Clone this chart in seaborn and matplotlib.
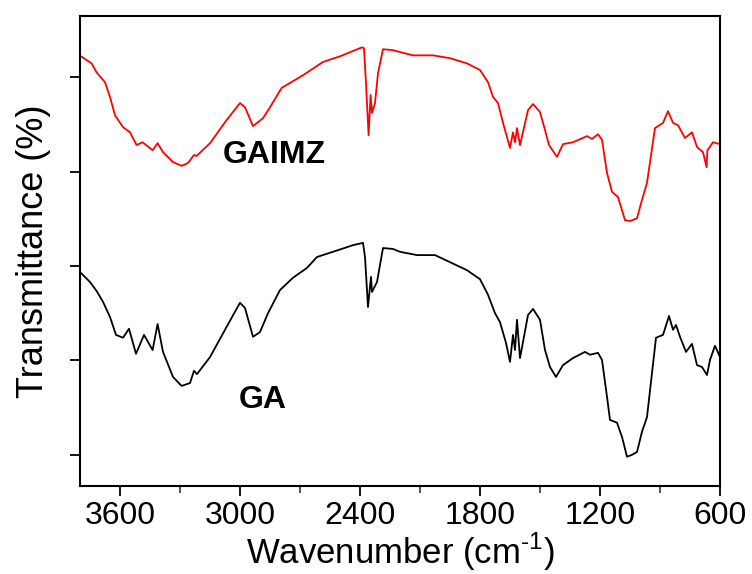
import matplotlib
matplotlib.use("Agg")
import matplotlib.pyplot as plt
import seaborn as sns
import pandas as pd
from matplotlib.ticker import MultipleLocator

# Wavenumber (cm^-1) and transmittance (arbitrary offset units)
gaimz_wn = [3795, 3742, 3717, 3675, 3650, 3625, 3585, 3550, 3517, 3487, 3437, 3412,
            3385, 3335, 3292, 3260, 3230, 3217, 3150, 3067, 3000, 2975, 2935, 2885,
            2850, 2792, 2685, 2585, 2500, 2390, 2380, 2370, 2357, 2347, 2340, 2325,
            2310, 2285, 2235, 2200, 2135, 2035, 1950, 1865, 1800, 1760, 1735, 1710,
            1685, 1650, 1635, 1625, 1615, 1600, 1560, 1535, 1500, 1475, 1455, 1415,
            1385, 1335, 1265, 1240, 1210, 1190, 1165, 1140, 1110, 1075, 1050, 1015,
            990, 965, 925, 885, 860, 835, 810, 775, 740, 715, 685, 667, 663, 635, 600]
gaimz_t = [84.4, 82.9, 81.0, 78.9, 75.8, 71.9, 69.4, 68.3, 65.6, 66.2, 64.5, 66.0,
           64.1, 62.0, 61.2, 61.8, 63.5, 63.3, 66.0, 70.9, 74.5, 73.6, 69.6, 71.3,
           73.6, 77.7, 80.4, 83.2, 84.4, 86.3, 86.1, 78.7, 67.7, 76.2, 72.4, 74.5,
           80.8, 85.9, 85.7, 85.3, 84.6, 84.6, 84.0, 82.9, 81.5, 78.9, 75.8, 74.5,
           70.3, 65.0, 68.3, 66.2, 69.2, 65.6, 73.0, 74.3, 72.6, 68.8, 65.6, 63.1,
           65.8, 66.2, 67.5, 66.9, 67.9, 66.7, 59.7, 55.7, 54.6, 49.7, 49.5, 50.1,
           54.0, 57.6, 69.2, 70.3, 72.8, 70.3, 69.8, 67.1, 68.3, 65.2, 64.1, 60.9,
           64.5, 66.2, 65.8]

ga_wn = [3795, 3750, 3717, 3685, 3650, 3620, 3585, 3555, 3520, 3480, 3437, 3412,
         3385, 3335, 3292, 3250, 3230, 3215, 3150, 3067, 3000, 2975, 2935, 2900,
         2860, 2800, 2735, 2665, 2615, 2535, 2435, 2385, 2375, 2360, 2345, 2340,
         2315, 2285, 2235, 2200, 2115, 2025, 1950, 1865, 1800, 1760, 1725, 1700,
         1670, 1650, 1635, 1625, 1615, 1600, 1560, 1535, 1500, 1475, 1450, 1420,
         1385, 1335, 1275, 1250, 1210, 1190, 1165, 1150, 1115, 1090, 1065, 1040,
         1015, 990, 965, 920, 885, 855, 835, 820, 800, 770, 740, 715, 690, 665,
         650, 625, 600]
ga_t = [38.5, 36.6, 34.7, 32.4, 29.2, 25.4, 24.8, 26.7, 21.4, 25.4, 22.2, 27.7,
        21.8, 16.5, 14.6, 15.2, 17.8, 17.1, 20.7, 27.1, 32.2, 31.1, 25.0, 26.0,
        30.0, 34.9, 37.5, 39.6, 41.9, 43.0, 44.4, 44.9, 41.9, 31.3, 37.7, 34.5,
        36.6, 43.8, 43.6, 43.0, 42.3, 42.3, 40.8, 39.1, 37.2, 33.9, 30.0, 28.1,
        23.7, 19.7, 25.4, 22.2, 28.6, 20.5, 29.6, 30.9, 28.6, 22.2, 18.6, 16.5,
        19.0, 20.5, 21.8, 21.2, 21.6, 20.1, 12.3, 7.4, 6.8, 3.8, -0.4, 0.0,
        0.6, 4.9, 8.0, 24.8, 25.4, 29.4, 26.5, 27.5, 25.0, 21.8, 23.5, 19.0, 18.6, 16.9,
        20.1, 23.1, 20.7]

x_ticks = [3600, 3000, 2400, 1800, 1200, 600]
y_ticks = [0, 20, 40, 60, 80]
labels = ["GAIMZ", "GA"]

df = pd.concat([
    pd.DataFrame({"wn": gaimz_wn, "T": gaimz_t, "sample": labels[0]}),
    pd.DataFrame({"wn": ga_wn, "T": ga_t, "sample": labels[1]}),
])

sns.set_style("ticks")
plt.rcParams["font.family"] = ["Liberation Sans", "DejaVu Sans"]
plt.rcParams["mathtext.fontset"] = "custom"
plt.rcParams["mathtext.rm"] = "Liberation Sans"
plt.rcParams["text.color"] = "black"
plt.rcParams["axes.labelcolor"] = "black"

fig = plt.figure(figsize=(7.52, 5.74), dpi=100)
ax = fig.add_axes([80 / 752, 1 - 486 / 574, 640 / 752, (486 - 15.7) / 574])

sns.lineplot(data=df, x="wn", y="T", hue="sample", units="sample", estimator=None,
             palette={"GAIMZ": "#ff0000", "GA": "#000000"}, linewidth=1.3,
             legend=False, ax=ax)

ax.set_xlim(3800, 600)
ax.set_ylim(-6.6, 93.0)
ax.set_xticks(x_ticks)
ax.set_xticklabels([str(t) for t in x_ticks])
ax.xaxis.set_minor_locator(MultipleLocator(300))
ax.set_yticks(y_ticks)
ax.set_yticklabels([])

for s in ax.spines.values():
    s.set_visible(True)
    s.set_linewidth(1.5)
    s.set_color("black")

ax.tick_params(axis="both", which="major", direction="out", length=7, width=1.3,
               labelsize=23, pad=4, colors="black")
ax.tick_params(axis="x", which="minor", direction="out", length=5, width=1.1)

ax.set_xlabel(r"Wavenumber (cm$^{\text{-1}}$)", fontsize=25, labelpad=0, color="black")
ax.set_ylabel("Transmittance (%)", fontsize=26, labelpad=10, color="black")

ax.text(2830, 63.5, labels[0], fontsize=23, fontweight="bold", ha="center",
        va="center", color="black")
ax.text(2885, 11.6, labels[1], fontsize=23, fontweight="bold", ha="center",
        va="center", color="black")

fig.savefig("out.png", dpi=100)
